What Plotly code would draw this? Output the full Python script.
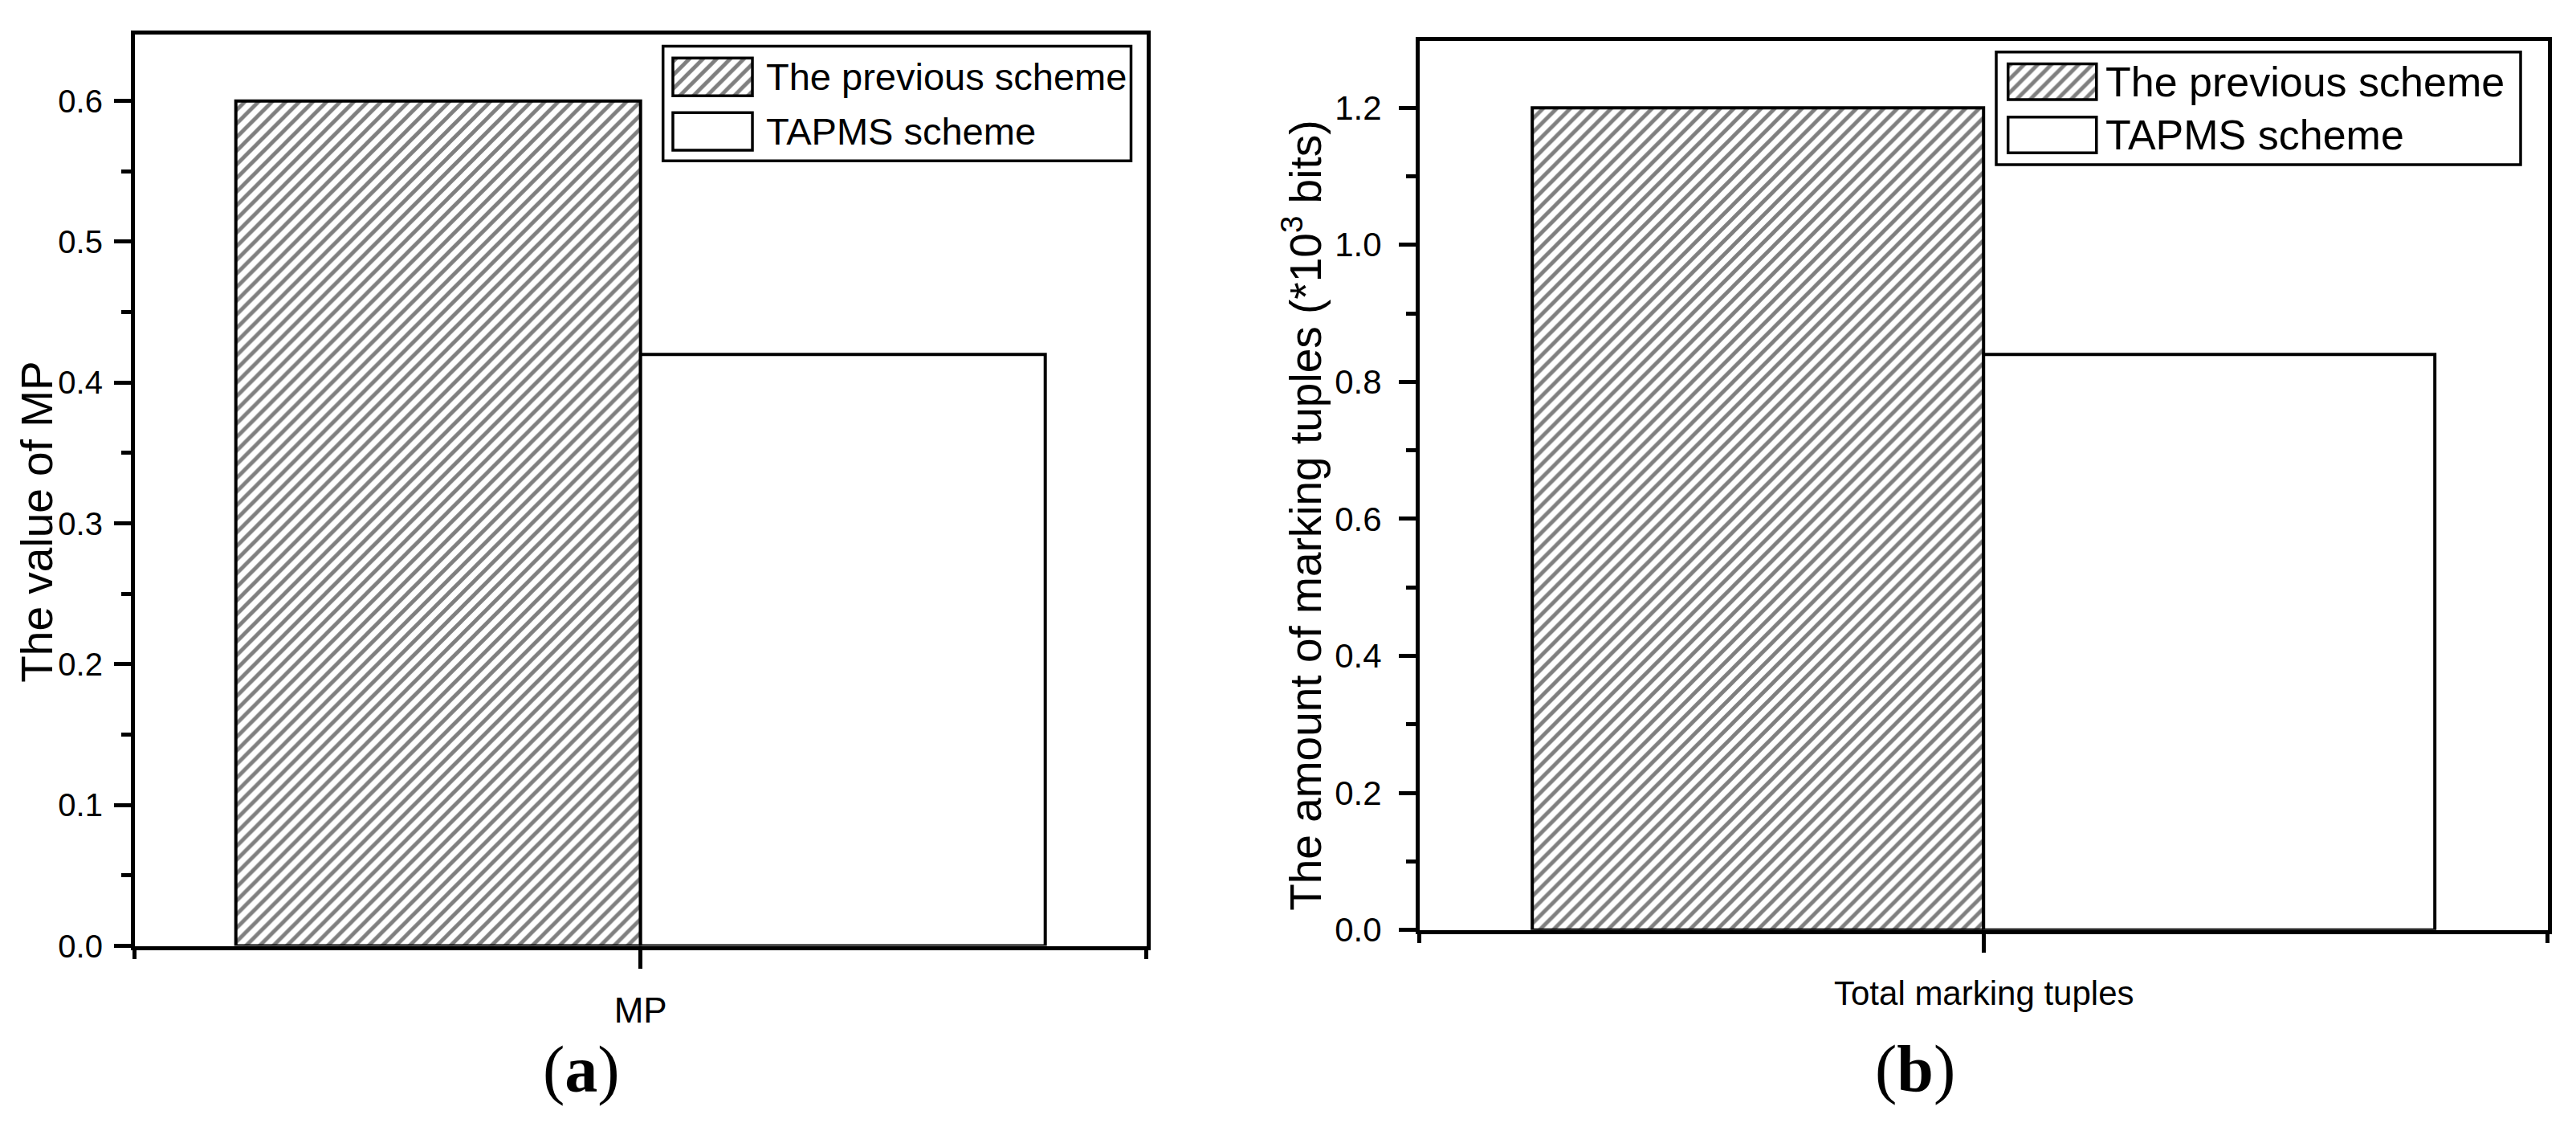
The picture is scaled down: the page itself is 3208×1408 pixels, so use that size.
import plotly.graph_objects as go

W, H = 3208, 1408

# ---------------- data ----------------
series_names = ["The previous scheme", "TAPMS scheme"]

cat_a = ["MP"]
prev_a = [0.60]
tapms_a = [0.42]

cat_b = ["Total marking tuples"]
prev_b = [1.20]
tapms_b = [0.84]

ytitle_a = "The value of MP"
ytitle_b = "The amount of marking tuples (*10<sup>3</sup> bits)"
captions = ["(<b>a</b>)", "(<b>b</b>)"]

# legend swatches (one per series, full length)
swatch_len = [1, 1]
swatch_shapes = ["/", ""]

# ---------------- styling ----------------
SANS = "Liberation Sans, Arial, sans-serif"
SERIF = "Liberation Serif, Times New Roman, serif"


def fx(px):
    return px / W


def fy(py):
    return 1 - py / H


hatch = dict(shape="/", fgcolor="black", bgcolor="white", size=12, solidity=0.4)
LW = 4.5
BLW = 4

fig = go.Figure()

# main bars
xa = list(range(len(cat_a)))
xb = list(range(len(cat_b)))
fig.add_trace(go.Bar(x=xa, y=prev_a, name=series_names[0], xaxis="x", yaxis="y",
                     marker=dict(color="white", pattern=hatch, line=dict(color="black", width=BLW))))
fig.add_trace(go.Bar(x=xa, y=tapms_a, name=series_names[1], xaxis="x", yaxis="y",
                     marker=dict(color="white", line=dict(color="black", width=BLW))))
fig.add_trace(go.Bar(x=xb, y=prev_b, name=series_names[0], xaxis="x2", yaxis="y2",
                     marker=dict(color="white", pattern=hatch, line=dict(color="black", width=BLW))))
fig.add_trace(go.Bar(x=xb, y=tapms_b, name=series_names[1], xaxis="x2", yaxis="y2",
                     marker=dict(color="white", line=dict(color="black", width=BLW))))

# legend swatches (drawn as small horizontal bars in dedicated subplots)
for xax, yax, w in (("x3", "y3", 0.69), ("x4", "y4", 0.67)):
    fig.add_trace(go.Bar(x=swatch_len, y=list(range(len(series_names))), orientation="h",
                         xaxis=xax, yaxis=yax, width=w,
                         marker=dict(color="white", line=dict(color="black", width=3.5),
                                     pattern=dict(shape=swatch_shapes, fgcolor="black",
                                                  bgcolor="white", size=12, solidity=0.4))))


def xaxis_main(dom, ticktext, font, show_labels):
    return dict(domain=dom, range=[-0.5, 0.5], tickmode="array", tickvals=[0], ticktext=ticktext,
                showticklabels=show_labels,
                ticks="outside", ticklen=24, tickwidth=LW, tickcolor="black",
                showline=True, linewidth=LW, linecolor="black", mirror=True,
                showgrid=False, zeroline=False, tickfont=font, ticklabelstandoff=14,
                minor=dict(tickmode="array", tickvals=[-0.5, 0.5], ticks="outside", ticklen=12,
                           tickwidth=LW, tickcolor="black", showgrid=False),
                fixedrange=True)


def yaxis_main(dom, rng, dtick, anchor, font, standoff):
    return dict(domain=dom, range=rng, anchor=anchor, tick0=0, dtick=dtick, tickformat=".1f",
                ticks="outside", ticklen=21, tickwidth=LW, tickcolor="black",
                showline=True, linewidth=LW, linecolor="black", mirror=True,
                showgrid=False, zeroline=False, tickfont=font, ticklabelstandoff=standoff,
                minor=dict(dtick=dtick / 2, ticks="outside", ticklen=12, tickwidth=LW,
                           tickcolor="black", showgrid=False))


def yaxis_right(over, anchor, rng, dtick):
    return dict(overlaying=over, anchor=anchor, side="right", range=rng, tick0=0, dtick=dtick,
                ticks="inside", ticklen=21, tickwidth=LW, tickcolor="black",
                showticklabels=False, showline=False, showgrid=False, zeroline=False,
                minor=dict(dtick=dtick / 2, ticks="inside", ticklen=12, tickwidth=LW,
                           tickcolor="black", showgrid=False))


ya_rng = [0, 0.647]
yb_rng = [0, 1.297]

layout = dict(
    width=W, height=H, margin=dict(l=0, r=0, t=0, b=0),
    paper_bgcolor="white", plot_bgcolor="white",
    barmode="group", bargap=0.2, bargroupgap=0, showlegend=False,
    xaxis=dict(**xaxis_main([fx(167.7), fx(1427.7)], cat_a,
                            dict(family=SANS, size=44, color="black"), True), anchor="y"),
    yaxis=yaxis_main([fy(1198), fy(44)], ya_rng, 0.1, "x", dict(family=SANS, size=40, color="black"), 6),
    xaxis2=dict(**xaxis_main([fx(1767.7), fx(3172.7)], cat_b,
                             dict(family=SANS, size=42, color="black"), False), anchor="y2"),
    yaxis2=yaxis_main([fy(1177.7), fy(52.3)], yb_rng, 0.2, "x2", dict(family=SANS, size=42, color="black"), 13),
    yaxis5=yaxis_right("y", "x", ya_rng, 0.1),
    yaxis6=yaxis_right("y2", "x2", yb_rng, 0.2),
    # legend subplots
    xaxis3=dict(domain=[fx(836), fx(939)], range=[-0.02, 1.02], visible=False, anchor="y3", fixedrange=True),
    yaxis3=dict(domain=[fy(201), fy(62.9)], range=[1.5, -0.5], anchor="x3", side="right",
                tickmode="array", tickvals=list(range(len(series_names))), ticktext=series_names,
                ticks="", showline=False, showgrid=False, zeroline=False, ticklabelstandoff=14,
                tickfont=dict(family=SANS, size=47, color="black"), fixedrange=True),
    xaxis4=dict(domain=[fx(2498.5), fx(2613)], range=[-0.02, 1.02], visible=False, anchor="y4", fixedrange=True),
    yaxis4=dict(domain=[fy(204.6), fy(69.8)], range=[1.5, -0.5], anchor="x4", side="right",
                tickmode="array", tickvals=list(range(len(series_names))), ticktext=series_names,
                ticks="", showline=False, showgrid=False, zeroline=False, ticklabelstandoff=8,
                tickfont=dict(family=SANS, size=52, color="black"), fixedrange=True),
    shapes=[
        dict(type="rect", xref="paper", yref="paper", x0=fx(825.7), x1=fx(1408.5),
             y0=fy(203.8), y1=fy(58.4), line=dict(color="black", width=3.5)),
        dict(type="rect", xref="paper", yref="paper", x0=fx(2486), x1=fx(3139),
             y0=fy(208.6), y1=fy(65.8), line=dict(color="black", width=3.5)),
    ],
    annotations=[
        dict(text=ytitle_a, x=fx(46), y=fy(661), xref="paper", yref="paper", textangle=-90,
             showarrow=False, xanchor="center", yanchor="middle",
             font=dict(family=SANS, size=55, color="black")),
        dict(text=ytitle_b, x=fx(1622), y=fy(653), xref="paper", yref="paper", textangle=-90,
             showarrow=False, xanchor="center", yanchor="middle",
             font=dict(family=SANS, size=55, color="black")),
        dict(text=cat_b[0], x=fx(2471), y=fy(1258), xref="paper", yref="paper",
             showarrow=False, xanchor="center", yanchor="middle",
             font=dict(family=SANS, size=42, color="black")),
        dict(text=captions[0], x=fx(724), y=fy(1355), xref="paper", yref="paper",
             showarrow=False, xanchor="center", yanchor="middle",
             font=dict(family=SERIF, size=82, color="black")),
        dict(text=captions[1], x=fx(2385), y=fy(1354), xref="paper", yref="paper",
             showarrow=False, xanchor="center", yanchor="middle",
             font=dict(family=SERIF, size=82, color="black")),
    ],
)
fig.update_layout(**layout)
fig.write_html("out.html", config={"displayModeBar": False},
               post_script="document.body.style.margin='0px';")
